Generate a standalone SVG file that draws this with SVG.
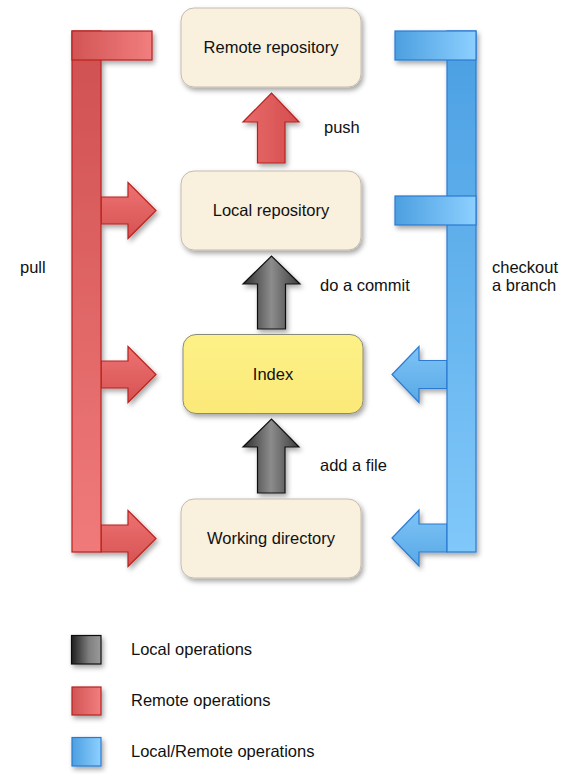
<svg xmlns="http://www.w3.org/2000/svg" width="581" height="774" viewBox="0 0 581 774">
<defs>
<filter id="sh" x="-20%" y="-20%" width="150%" height="150%">
<feDropShadow dx="2" dy="3" stdDeviation="2.5" flood-color="#000" flood-opacity="0.35"/>
</filter>
<linearGradient id="redV" x1="0" y1="0" x2="0" y2="1"><stop offset="0" stop-color="#cf4f4f"/><stop offset="1" stop-color="#f07a7a"/></linearGradient>
<linearGradient id="redH" x1="0" y1="0" x2="1" y2="0"><stop offset="0" stop-color="#d25454"/><stop offset="1" stop-color="#f27e7e"/></linearGradient>
<linearGradient id="redA" x1="0" y1="0" x2="0" y2="1"><stop offset="0" stop-color="#ee7272"/><stop offset="1" stop-color="#d65252"/></linearGradient>
<linearGradient id="redU" x1="0" y1="0" x2="1" y2="0"><stop offset="0" stop-color="#e86a6a"/><stop offset="1" stop-color="#d44e4e"/></linearGradient>
<linearGradient id="blueV" x1="0" y1="0" x2="0" y2="1"><stop offset="0" stop-color="#4a9fe2"/><stop offset="1" stop-color="#80c8fa"/></linearGradient>
<linearGradient id="blueH" x1="0" y1="0" x2="1" y2="0"><stop offset="0" stop-color="#4c9fe0"/><stop offset="1" stop-color="#8dd0ff"/></linearGradient>
<linearGradient id="blueA" x1="0" y1="0" x2="0" y2="1"><stop offset="0" stop-color="#7ec4f6"/><stop offset="1" stop-color="#58a8e6"/></linearGradient>
<linearGradient id="gray" x1="0" y1="0" x2="1" y2="0"><stop offset="0" stop-color="#2e2e2e"/><stop offset="0.5" stop-color="#8c8c8c"/><stop offset="1" stop-color="#3c3c3c"/></linearGradient>
<linearGradient id="grayL" x1="0" y1="0" x2="1" y2="0"><stop offset="0" stop-color="#1e1e1e"/><stop offset="0.6" stop-color="#808080"/><stop offset="1" stop-color="#9a9a9a"/></linearGradient>
<linearGradient id="yel" x1="0" y1="0" x2="0" y2="1"><stop offset="0" stop-color="#fdf187"/><stop offset="1" stop-color="#fbe978"/></linearGradient>
</defs>
<style>
text{font-family:"Liberation Sans",Arial,sans-serif;font-size:16.5px;fill:#111}
.node{fill:#f9f0de;stroke:#c4bcae;stroke-width:1}
.red{stroke:#b8221e;stroke-width:1.2}
.blue{stroke:#2a7ad2;stroke-width:1.2}
.dark{stroke:#111;stroke-width:1.2}
.c{text-anchor:middle}
</style>
<g id="connectors">
<g id="pull" filter="url(#sh)">
<path class="red" fill="url(#redA)" d="M101,197 H128 V182.5 L156,210.5 L128,238.5 V224 H101 Z"/>
<path class="red" fill="url(#redA)" d="M101,361 H128 V346.5 L156,374.5 L128,402.5 V388 H101 Z"/>
<path class="red" fill="url(#redA)" d="M101,525 H128 V510.5 L156,538.5 L128,566.5 V552 H101 Z"/>
<rect class="red" fill="url(#redV)" x="72" y="31" width="29" height="521"/>
<rect class="red" fill="url(#redH)" x="72" y="31" width="80" height="29"/>
</g>
<g id="checkout" filter="url(#sh)">
<path class="blue" fill="url(#blueA)" d="M447,360.5 H419 V346.5 L392,374.5 L419,402.5 V388.5 H447 Z"/>
<path class="blue" fill="url(#blueA)" d="M447,524 H419 V510 L392,538 L419,566 V552 H447 Z"/>
<rect class="blue" fill="url(#blueV)" x="447" y="31" width="29" height="521"/>
<rect class="blue" fill="url(#blueH)" x="395" y="31" width="81" height="29"/>
<rect class="blue" fill="url(#blueH)" x="395" y="196" width="81" height="29"/>
</g>
<path id="push" class="red" fill="url(#redU)" filter="url(#sh)" d="M257.5,163 V122 H243 L271.5,93 L299,122 H285 V163 Z"/>
<path id="commit" class="dark" fill="url(#gray)" filter="url(#sh)" d="M257.5,329 V284 H243 L271.5,256 L300,284 H285.5 V329 Z"/>
<path id="add" class="dark" fill="url(#gray)" filter="url(#sh)" d="M257.5,493 V447 H243 L271.5,419 L299,447 H285 V493 Z"/>
<text x="324" y="133">push</text>
<text x="320" y="291">do a commit</text>
<text x="320" y="471">add a file</text>
<text x="20" y="273">pull</text>
<text x="492" y="273">checkout</text>
<text x="492" y="291">a branch</text>
</g>
<g id="remote">
<rect class="node" x="181" y="8" width="180" height="79" rx="13" filter="url(#sh)"/>
<text class="c" x="271" y="53">Remote repository</text>
</g>
<g id="local">
<rect class="node" x="181" y="171" width="180" height="79" rx="13" filter="url(#sh)"/>
<text class="c" x="271" y="216">Local repository</text>
</g>
<g id="index">
<rect x="183" y="334.5" width="180" height="79" rx="13" fill="url(#yel)" stroke="#8a8a7a" stroke-width="1" filter="url(#sh)"/>
<text class="c" x="273" y="380">Index</text>
</g>
<g id="working">
<rect class="node" x="181" y="499" width="180" height="79" rx="13" filter="url(#sh)"/>
<text class="c" x="271" y="544">Working directory</text>
</g>
<g id="legend">
<rect class="dark" fill="url(#grayL)" x="71.5" y="635.5" width="29.5" height="28.5" filter="url(#sh)"/>
<rect class="red" fill="url(#redH)" x="72" y="687" width="29" height="28" filter="url(#sh)"/>
<rect class="blue" fill="url(#blueH)" x="72" y="737.5" width="29" height="28.5" filter="url(#sh)"/>
<text x="131" y="655">Local operations</text>
<text x="131" y="706">Remote operations</text>
<text x="131" y="757">Local/Remote operations</text>
</g>
</svg>
